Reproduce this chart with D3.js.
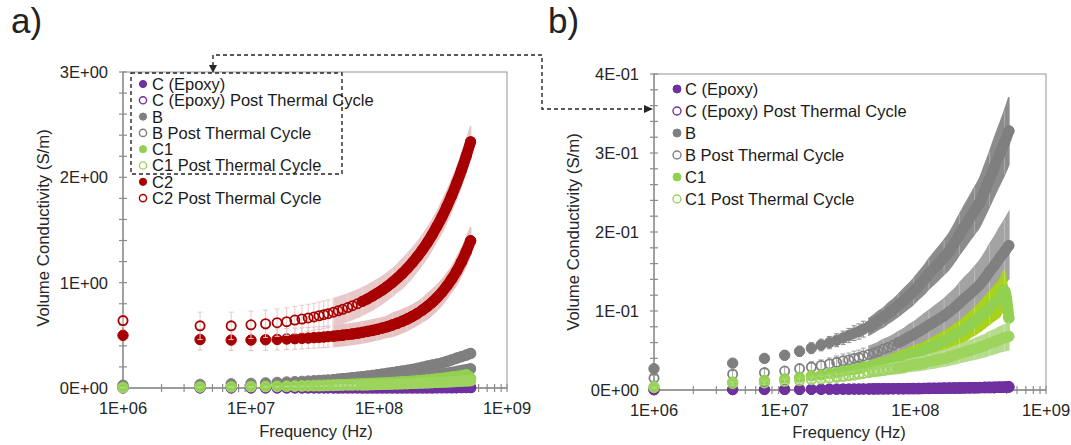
<!DOCTYPE html>
<html><head><meta charset="utf-8">
<script src="https://cdn.jsdelivr.net/npm/d3@7"></script>
<style>
body{margin:0;background:#fff}
svg{display:block}
text{font-family:"Liberation Sans",Arial,sans-serif}
</style>
</head><body>
<svg id="c" width="1071" height="445"></svg>
<script>
// ---------- DATA ----------
const frequencies = [1e6,4e6,7e6,1e7,1.3e7,1.6e7,1.9e7,2.2e7,2.5e7,2.8e7,3.1e7,
  3.4e7,3.7e7,4.0e7,4.4e7,4.8e7,5.2e7,5.7e7,6.2e7,6.8e7,7.4e7,8.1e7,8.9e7,9.7e7,
  1.06e8,1.16e8,1.27e8,1.39e8,1.52e8,1.66e8,1.82e8,1.99e8,2.18e8,2.38e8,2.6e8,2.84e8,3.1e8,3.39e8,3.7e8,4.04e8,4.41e8,4.81e8,5.2e8];

const seriesNames = ["C (Epoxy)","C (Epoxy) Post Thermal Cycle","B","B Post Thermal Cycle","C1","C1 Post Thermal Cycle","C2","C2 Post Thermal Cycle"];

const cEpoxy = [0.0004,0.0006,0.0007,0.0008,0.0009,0.0010,0.0010,0.0011,0.0011,0.0012,0.0012,
  0.0013,0.0013,0.0014,0.0014,0.0015,0.0015,0.0016,0.0016,0.0017,0.0018,0.0018,0.0019,0.0020,
  0.0021,0.0021,0.0022,0.0023,0.0024,0.0025,0.0026,0.0027,0.0028,0.0029,0.0030,0.0031,0.0032,0.0034,0.0035,0.0037,0.0038,0.0040,0.0042];
const cEpoxyPost = [0.0003,0.0004,0.0005,0.0006,0.0006,0.0007,0.0007,0.0008,0.0008,0.0009,0.0009,
  0.0010,0.0010,0.0011,0.0011,0.0011,0.0012,0.0012,0.0013,0.0013,0.0014,0.0014,0.0015,0.0015,
  0.0016,0.0017,0.0017,0.0018,0.0019,0.0020,0.0021,0.0022,0.0023,0.0024,0.0025,0.0026,0.0027,0.0028,0.0029,0.0030,0.0032,0.0033,0.0035];
const bVals = [0.027,0.034,0.040,0.044,0.049,0.053,0.057,0.060,0.063,0.066,0.069,
  0.072,0.074,0.077,0.080,0.084,0.088,0.092,0.097,0.102,0.107,0.113,0.119,0.125,
  0.132,0.139,0.147,0.154,0.161,0.168,0.176,0.186,0.197,0.207,0.217,0.227,0.237,0.252,0.267,0.283,0.298,0.313,0.328];
const bPost = [0.015,0.020,0.022,0.024,0.027,0.029,0.031,0.033,0.035,0.037,0.038,
  0.040,0.041,0.043,0.045,0.047,0.049,0.052,0.054,0.057,0.060,0.063,0.067,0.070,
  0.074,0.078,0.082,0.086,0.090,0.094,0.099,0.104,0.110,0.116,0.121,0.127,0.133,0.141,0.150,0.158,0.167,0.175,0.183];
const c1Vals = [0.004,0.010,0.012,0.014,0.016,0.018,0.019,0.021,0.022,0.024,0.025,
  0.026,0.027,0.029,0.030,0.031,0.033,0.034,0.036,0.038,0.040,0.042,0.044,0.046,
  0.048,0.050,0.053,0.056,0.059,0.062,0.065,0.069,0.073,0.077,0.082,0.087,0.092,0.098,0.104,0.110,0.116,0.126,0.091];
const c1Post = [0.003,0.008,0.009,0.011,0.012,0.013,0.014,0.015,0.016,0.017,0.018,
  0.019,0.020,0.021,0.022,0.023,0.024,0.025,0.026,0.027,0.028,0.029,0.031,0.032,
  0.033,0.034,0.036,0.037,0.039,0.040,0.042,0.044,0.046,0.048,0.050,0.052,0.054,0.056,0.059,0.061,0.064,0.066,0.068];
const c2Vals = [0.50,0.46,0.455,0.455,0.458,0.461,0.465,0.468,0.471,0.474,0.478,
  0.481,0.484,0.488,0.492,0.497,0.501,0.507,0.513,0.52,0.528,0.537,0.547,0.557,
  0.569,0.582,0.598,0.615,0.634,0.655,0.68,0.707,0.739,0.774,0.813,0.858,0.909,0.968,1.034,1.11,1.197,1.296,1.398];
const c2Post = [0.64,0.59,0.59,0.60,0.61,0.62,0.63,0.645,0.655,0.665,0.675,
  0.686,0.696,0.706,0.72,0.733,0.747,0.764,0.781,0.80,0.822,0.845,0.873,0.90,
  0.93,0.964,1.002,1.043,1.087,1.134,1.189,1.247,1.311,1.379,1.454,1.536,1.624,1.723,1.828,1.944,2.069,2.205,2.338];

// error bars (S/m) for C2 series; percentage error bars for the others
const c2Err = [0.05,0.10,0.10,0.10,0.10,0.10,0.10,0.10,0.10,0.10,0.10,
  0.10,0.10,0.10,0.10,0.10,0.10,0.10,0.10,0.10,0.10,0.10,0.10,0.10,
  0.10,0.10,0.11,0.11,0.11,0.11,0.11,0.11,0.11,0.12,0.12,0.12,0.12,0.12,0.12,0.13,0.13,0.13,0.13];
const c2PostErr = [0.06,0.13,0.13,0.13,0.13,0.13,0.13,0.13,0.13,0.13,0.13,
  0.13,0.13,0.13,0.13,0.13,0.13,0.13,0.13,0.13,0.13,0.13,0.13,0.13,
  0.13,0.13,0.13,0.13,0.14,0.14,0.14,0.14,0.14,0.14,0.14,0.14,0.15,0.15,0.15,0.15,0.15,0.15,0.15];
const errorPercent = [0,0,13,23,20,25,0,0];

const xTickLabels = ["1E+06","1E+07","1E+08","1E+09"];
const yTickLabelsA = ["0E+00","1E+00","2E+00","3E+00"];
const yTickLabelsB = ["0E+00","1E-01","2E-01","3E-01","4E-01"];

// ---------- STYLE ----------
const seriesValues = [cEpoxy,cEpoxyPost,bVals,bPost,c1Vals,c1Post,c2Vals,c2Post];
const seriesErr = [null,null,null,null,null,null,c2Err,c2PostErr];
const styles = [
  {color:"#7030a0", open:false, err:"#9b6cc0"},
  {color:"#7030a0", open:true,  err:"#9b6cc0"},
  {color:"#7f7f7f", open:false, err:"#8c8c8c"},
  {color:"#808080", open:true,  err:"#a3a3a3"},
  {color:"#92d050", open:false, err:"#a8d21c"},
  {color:"#9dd45e", open:true,  err:"#b5dc8c"},
  {color:"#a80000", open:false, err:"#e6c3c3"},
  {color:"#a80000", open:true,  err:"#e8c8c8"}
];
const sweepStep = 3e6;
const R = 5.2;

const svg = d3.select("#c");
const panels = [
  {label:"a)", labelX:11, left:123, right:507, top:72, bottom:388, yMax:3, yMajor:1, yMinor:0.2,
   yLabels:yTickLabelsA, count:8, legX:143, legY:84, legDy:16.3, legR:3.6, textX:152,
   titleX:316, titleY:437, yTitleX:49, yTitleY:228},
  {label:"b)", labelX:548, left:654, right:1046, top:74, bottom:390, yMax:0.4, yMajor:0.1, yMinor:0.02,
   yLabels:yTickLabelsB, count:6, legX:677, legY:89, legDy:22, legR:4, textX:685,
   titleX:849, titleY:438, yTitleX:579, yTitleY:232}
];

const axisCol = "#8c8c8c", txtCol = "#262626";

panels.forEach(p => {
  const g = svg.append("g");
  const x = d3.scaleLog().domain([1e6,1e9]).range([p.left,p.right]);
  const y = d3.scaleLinear().domain([0,p.yMax]).range([p.bottom,p.top]);
  const pxPerDec = (p.right-p.left)/3;
  const realGap = f => pxPerDec*Math.log10((f+sweepStep)/f);

  g.append("text").attr("x",p.labelX).attr("y",33).attr("font-size",35).attr("fill","#222").text(p.label);

  g.append("rect").attr("x",p.left).attr("y",p.top).attr("width",p.right-p.left).attr("height",p.bottom-p.top)
    .attr("fill","none").attr("stroke","#a6a6a6").attr("stroke-width",1.2);

  // y axis
  g.append("line").attr("x1",p.left).attr("x2",p.left).attr("y1",p.top).attr("y2",p.bottom)
    .attr("stroke",axisCol).attr("stroke-width",1.3);
  const nMin = Math.round(p.yMax/p.yMinor);
  d3.range(nMin+1).forEach(i => {
    const v = i*p.yMinor;
    g.append("line").attr("x1",p.left-4).attr("x2",p.left+4).attr("y1",y(v)).attr("y2",y(v))
      .attr("stroke",axisCol).attr("stroke-width",1.2);
  });
  p.yLabels.forEach((lab,i) => {
    g.append("text").attr("x",p.left-15).attr("y",y(i*p.yMajor)).attr("dy","0.36em")
      .attr("text-anchor","end").attr("font-size",16.5).attr("fill",txtCol).text(lab);
  });

  // x axis
  g.append("line").attr("x1",p.left).attr("x2",p.right).attr("y1",p.bottom).attr("y2",p.bottom)
    .attr("stroke",axisCol).attr("stroke-width",1.3);
  const xt = [];
  [6,7,8].forEach(d => { for (let m=1;m<=9;m++) xt.push(m*Math.pow(10,d)); });
  xt.push(1e9);
  xt.forEach(f => {
    g.append("line").attr("x1",x(f)).attr("x2",x(f)).attr("y1",p.bottom-4).attr("y2",p.bottom+4)
      .attr("stroke",axisCol).attr("stroke-width",1.2);
  });
  xTickLabels.forEach((lab,i) => {
    g.append("text").attr("x",x(Math.pow(10,6+i))).attr("y",p.bottom+26).attr("text-anchor","middle")
      .attr("font-size",16.5).attr("fill",txtCol).text(lab);
  });

  g.append("text").attr("x",p.titleX).attr("y",p.titleY).attr("text-anchor","middle")
    .attr("font-size",16.5).attr("fill",txtCol).text("Frequency (Hz)");
  g.append("text").attr("transform",`translate(${p.yTitleX},${p.yTitleY}) rotate(-90)`)
    .attr("text-anchor","middle").attr("font-size",16.8).attr("fill",txtCol).text("Volume Conductivity (S/m)");

  // series
  for (let s=0; s<p.count; s++) {
    const vals = seriesValues[s], st = styles[s];
    const pts = frequencies.map((f,i) => ({f, v:vals[i],
      e: seriesErr[s] ? seriesErr[s][i] : vals[i]*errorPercent[s]/100}));
    const errDense = pts.filter(d => realGap(d.f) < 4);
    const errSparse = pts.filter(d => realGap(d.f) >= 4);
    const bandLimit = st.open ? 2.3 : 4;
    const band = pts.filter(d => realGap(d.f) < bandLimit);
    const eg = g.append("g");
    errSparse.forEach(d => {
      if (d.e <= 0) return;
      const xx = x(d.f), y1 = y(d.v+d.e), y2 = y(d.v-d.e);
      eg.append("line").attr("x1",xx).attr("x2",xx).attr("y1",y1).attr("y2",y2)
        .attr("stroke",st.err).attr("stroke-width",1);
      [y1,y2].forEach(yy => eg.append("line").attr("x1",xx-2.5).attr("x2",xx+2.5).attr("y1",yy).attr("y2",yy)
        .attr("stroke",st.err).attr("stroke-width",1));
    });
    if (errDense.length && errDense[0].e > 0) {
      eg.append("path").datum(errDense)
        .attr("d", d3.area().x(d=>x(d.f)).y0(d=>y(d.v-d.e)).y1(d=>y(d.v+d.e)).curve(d3.curveMonotoneX))
        .attr("fill",st.err).attr("stroke",st.err).attr("stroke-width",1.5);
      errDense.forEach((d,i) => {
        if (i % 3) return;
        const xx = x(d.f);
        eg.append("line").attr("x1",xx).attr("x2",xx).attr("y1",y(d.v+d.e)).attr("y2",y(d.v-d.e))
          .attr("stroke","#fff").attr("stroke-opacity",0.35).attr("stroke-width",0.8);
      });
    }
    if (band.length) {
      g.append("path").datum(band)
        .attr("d", d3.line().x(d=>x(d.f)).y(d=>y(d.v)).curve(d3.curveMonotoneX))
        .attr("fill","none").attr("stroke",st.color).attr("stroke-width",2*R+0.5)
        .attr("stroke-linecap","round").attr("stroke-linejoin","round");
    }
    g.append("g").selectAll("circle").data(pts).join("circle")
      .attr("cx",d=>x(d.f)).attr("cy",d=>y(d.v)).attr("r",st.open?R-0.6:R)
      .attr("fill",st.open?"none":st.color).attr("stroke",st.color).attr("stroke-width",st.open?1.8:1);
  }

  // legend
  for (let s=0; s<p.count; s++) {
    const st = styles[s], yy = p.legY + s*p.legDy;
    g.append("circle").attr("cx",p.legX).attr("cy",yy).attr("r",p.legR)
      .attr("fill",st.open?"#fff":st.color).attr("stroke",st.color).attr("stroke-width",st.open?1.4:1);
    g.append("text").attr("x",p.textX).attr("y",yy).attr("dy","0.36em").attr("font-size",16.5)
      .attr("fill","#1a1a1a").text(seriesNames[s]);
  }
});

// dashed callout box and connector
const dash = "4,3", dc = "#262626";
svg.append("rect").attr("x",131).attr("y",73).attr("width",211).attr("height",101)
  .attr("fill","none").attr("stroke",dc).attr("stroke-width",1.4).attr("stroke-dasharray",dash);
svg.append("path").attr("d","M213,66 L213,55 L542,55 L542,109 L645,109")
  .attr("fill","none").attr("stroke",dc).attr("stroke-width",1.4).attr("stroke-dasharray",dash);
svg.append("path").attr("d","M209,65 L217,65 L213,73 Z").attr("fill",dc);
svg.append("path").attr("d","M644,105 L644,113 L653,109 Z").attr("fill",dc);
</script>
</body></html>
